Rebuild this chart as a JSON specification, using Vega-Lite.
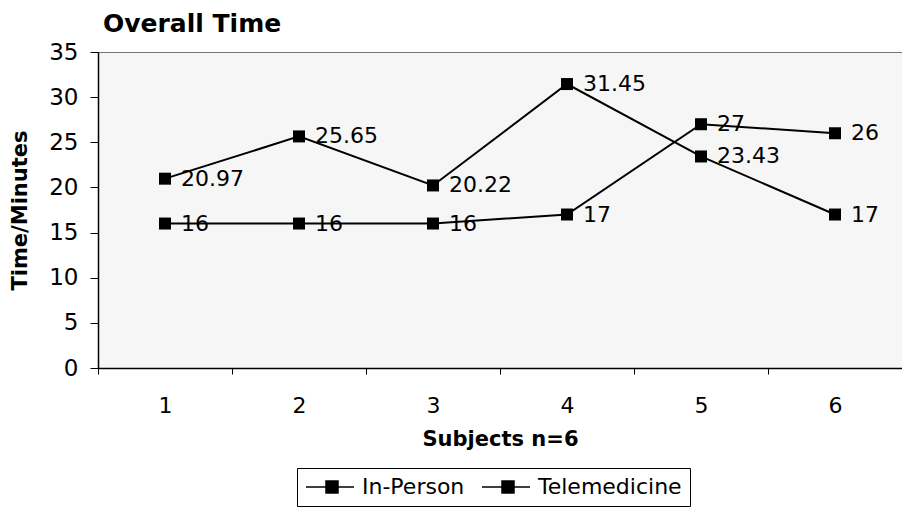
{
 "$schema": "https://vega.github.io/schema/vega-lite/v6.json",
 "width": 804,
 "height": 316,
 "autosize": {"type": "none"},
 "padding": {"left": 98, "top": 52, "right": 0, "bottom": 142},
 "background": "white",
 "title": {"text": "Overall Time", "anchor": "start", "frame": "group", "font": "DejaVu Sans", "fontSize": 25, "fontWeight": "bold", "color": "black", "offset": 4, "dx": 5},
 "config": {"view": {"fill": "#f6f6f6", "stroke": "#777777", "strokeWidth": 1}, "font": "DejaVu Sans"},
 "data": {"values": [
  {"subject": "1", "series": "In-Person", "minutes": 16},
  {"subject": "2", "series": "In-Person", "minutes": 16},
  {"subject": "3", "series": "In-Person", "minutes": 16},
  {"subject": "4", "series": "In-Person", "minutes": 17},
  {"subject": "5", "series": "In-Person", "minutes": 27},
  {"subject": "6", "series": "In-Person", "minutes": 26},
  {"subject": "1", "series": "Telemedicine", "minutes": 20.97},
  {"subject": "2", "series": "Telemedicine", "minutes": 25.65},
  {"subject": "3", "series": "Telemedicine", "minutes": 20.22},
  {"subject": "4", "series": "Telemedicine", "minutes": 31.45},
  {"subject": "5", "series": "Telemedicine", "minutes": 23.43},
  {"subject": "6", "series": "Telemedicine", "minutes": 17}
 ]},
 "encoding": {
  "x": {"field": "subject", "type": "ordinal", "bandPosition": 0.5,
   "scale": {"type": "band", "paddingInner": 0, "paddingOuter": 0},
   "axis": {"title": "Subjects n=6", "labelAngle": 0, "labelFont": "DejaVu Sans", "labelFontSize": 22, "labelColor": "black", "labelPadding": 21,
    "tickSize": 6, "tickColor": "black", "tickBand": "extent", "domainColor": "black", "domainWidth": 1.5,
    "titleFont": "DejaVu Sans", "titleFontSize": 21, "titleFontWeight": "bold", "titleColor": "black", "titlePadding": 12, "grid": false}},
  "y": {"field": "minutes", "type": "quantitative",
   "scale": {"domain": [0, 35], "nice": false, "zero": true},
   "axis": {"title": "Time/Minutes", "values": [0, 5, 10, 15, 20, 25, 30, 35], "labelFont": "DejaVu Sans", "labelFontSize": 23, "labelColor": "black", "labelPadding": 12,
    "tickSize": 8, "tickColor": "black", "domainColor": "black", "domainWidth": 1.5, "grid": false,
    "titleFont": "DejaVu Sans", "titleFontSize": 21, "titleFontWeight": "bold", "titleColor": "black", "titlePadding": 18}}
 },
 "layer": [
  {"mark": {"type": "line", "strokeWidth": 2},
   "encoding": {"color": {"field": "series", "type": "nominal",
    "scale": {"domain": ["In-Person", "Telemedicine"], "range": ["black", "black"]},
    "legend": {"title": null, "orient": "none", "legendX": 199, "legendY": 416, "direction": "horizontal",
     "strokeColor": "black", "padding": 8, "labelFont": "DejaVu Sans", "labelFontSize": 22, "labelColor": "black",
     "symbolType": "M-1,0H3.8M1,-0.6H2.2V0.6H1Z", "symbolSize": 400, "symbolStrokeWidth": 1.5,
     "symbolFillColor": "black", "symbolStrokeColor": "black", "columnPadding": 14, "labelOffset": 35}}}},
  {"mark": {"type": "point", "shape": "square", "filled": true, "size": 144, "opacity": 1},
   "encoding": {"color": {"field": "series", "type": "nominal", "legend": null}}},
  {"mark": {"type": "text", "align": "left", "baseline": "middle", "dx": 16, "font": "DejaVu Sans", "fontSize": 22, "color": "black"},
   "encoding": {"text": {"field": "minutes", "type": "quantitative", "format": "~g"}}}
 ]
}
